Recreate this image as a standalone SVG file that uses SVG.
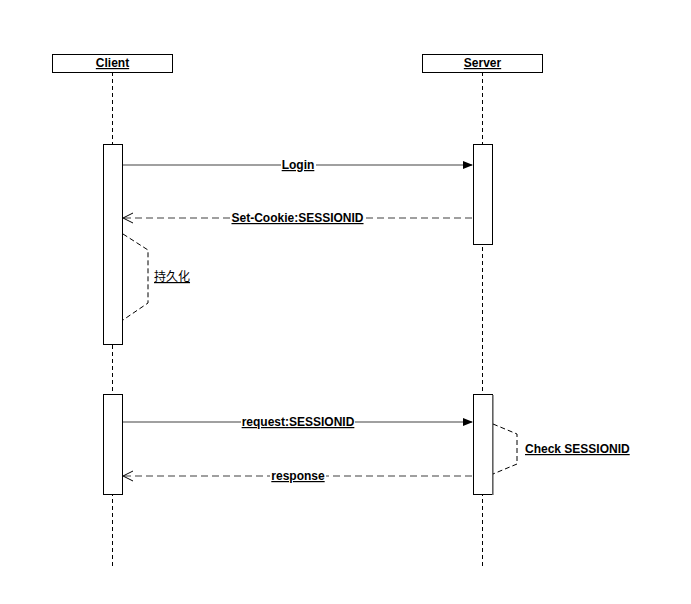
<svg xmlns="http://www.w3.org/2000/svg" width="691" height="604" viewBox="0 0 691 604">
<style>
.box{fill:#fff;stroke:#000;stroke-width:1}
.life{stroke:#000;stroke-width:1;stroke-dasharray:4,3;fill:none}
.act{fill:#fff;stroke:#000;stroke-width:1}
.msg{stroke:#808080;stroke-width:1.5;fill:none}
.ret{stroke:#808080;stroke-width:1.5;fill:none;stroke-dasharray:7,4}
.self{stroke:#000;stroke-width:1;fill:none;stroke-dasharray:5,3}
text{font-family:"Liberation Sans",Arial,"Noto Sans CJK SC",sans-serif;font-size:12px;font-weight:bold;fill:#000;text-decoration:underline}
.cjk{font-weight:normal}
.lbg{fill:#fff;stroke:none}
</style>
<defs>
<marker id="filled" markerWidth="10" markerHeight="10" refX="9" refY="5" orient="auto" markerUnits="userSpaceOnUse">
<path d="M0,1 L10,5 L0,9 Z" fill="#000"/>
</marker>
<marker id="open" markerWidth="12" markerHeight="12" refX="11" refY="6" orient="auto" markerUnits="userSpaceOnUse">
<path d="M1,1 L11,6 L1,11" fill="none" stroke="#000" stroke-width="1"/>
</marker>
</defs>
<rect width="691" height="604" fill="#fff"/>
<g id="client">
<line class="life" x1="112.5" y1="72" x2="112.5" y2="566"/>
<rect class="box" x="52.5" y="54.5" width="120" height="18"/>
<text x="112.5" y="67" text-anchor="middle">Client</text>
</g>
<g id="server">
<line class="life" x1="482.5" y1="72" x2="482.5" y2="566"/>
<rect class="box" x="422.5" y="54.5" width="120" height="18"/>
<text x="482.5" y="67" text-anchor="middle">Server</text>
</g>
<g id="client-act1"><rect class="act" x="103.5" y="144.5" width="19" height="200"/></g>
<g id="server-act1"><rect class="act" x="473.5" y="144.5" width="19" height="100"/></g>
<g id="client-act2"><rect class="act" x="103.5" y="394.5" width="19" height="100"/></g>
<g id="server-act2"><rect class="act" x="473.5" y="394.5" width="19" height="100"/><line x1="493" y1="395" x2="493" y2="495" stroke="#808080" stroke-width="1.5"/></g>
<g id="connectors">
<line class="msg" x1="123" y1="165" x2="472" y2="165" marker-end="url(#filled)"/>
<rect class="lbg" x="281" y="157" width="35" height="15"/>
<text x="298" y="169" text-anchor="middle">Login</text>
<line class="ret" x1="472" y1="218" x2="123" y2="218" marker-end="url(#open)"/>
<rect class="lbg" x="231" y="210" width="133" height="15"/>
<text x="297.5" y="222" text-anchor="middle">Set-Cookie:SESSIONID</text>
<polyline class="self" points="123,234 148,250 148,303 123,320"/>
<text class="cjk" x="154" y="281">持久化</text>
<line class="msg" x1="123" y1="422" x2="472" y2="422" marker-end="url(#filled)"/>
<rect class="lbg" x="241" y="414" width="114" height="15"/>
<text x="298" y="426" text-anchor="middle">request:SESSIONID</text>
<line class="ret" x1="472" y1="476" x2="123" y2="476" marker-end="url(#open)"/>
<rect class="lbg" x="270" y="468" width="56" height="15"/>
<text x="298" y="480" text-anchor="middle">response</text>
<polyline class="self" points="493,424 517,434 517,464 493,474"/>
<text x="525" y="453">Check SESSIONID</text>
</g>
</svg>
